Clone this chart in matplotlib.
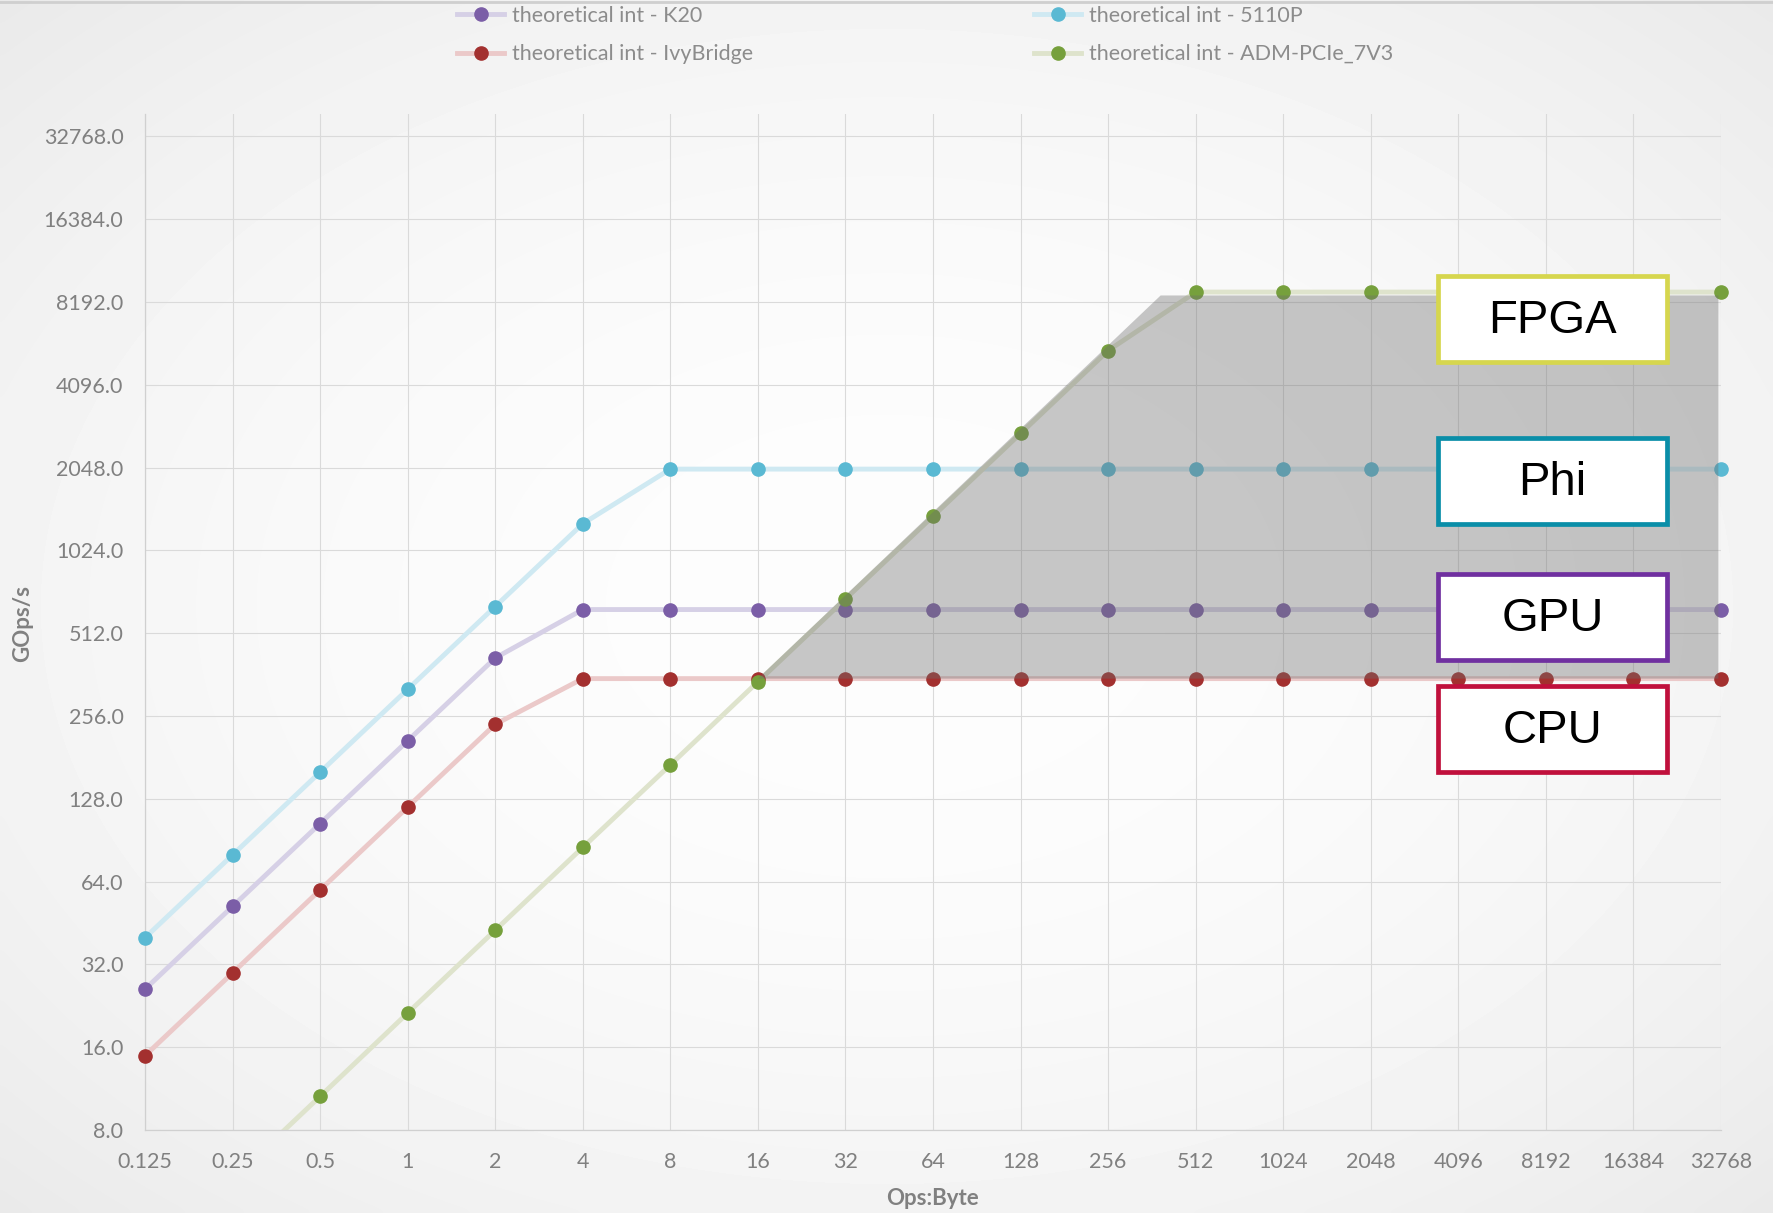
import numpy as np
import matplotlib
matplotlib.use("Agg")
import matplotlib.pyplot as plt
from matplotlib.patches import Rectangle
from matplotlib.lines import Line2D

# ---------------- data ----------------
ops_labels = ["0.125", "0.25", "0.5", "1", "2", "4", "8", "16", "32", "64", "128",
              "256", "512", "1024", "2048", "4096", "8192", "16384", "32768"]
k20 = [26, 52, 104, 208, 416, 624, 624, 624, 624, 624, 624, 624, 624, 624, 624, 624, 624, 624, 624]
ivybridge = [14.9, 29.8, 59.7, 119.4, 238.8, 350, 350, 350, 350, 350, 350, 350, 350, 350, 350, 350, 350, 350, 350]
phi_5110p = [40, 80, 160, 320, 640, 1280, 2022, 2022, 2022, 2022, 2022, 2022, 2022, 2022, 2022, 2022, 2022, 2022, 2022]
fpga_7v3 = [2.66, 5.3, 10.6, 21.3, 42.6, 85.2, 170, 341, 682, 1363, 2726, 5452, 8900, 8900, 8900, 8900, 8900, 8900, 8900]
series_names = ["theoretical int - K20", "theoretical int - IvyBridge",
                "theoretical int - 5110P", "theoretical int - ADM-PCIe_7V3"]
y_ticks = [8, 16, 32, 64, 128, 256, 512, 1024, 2048, 4096, 8192, 16384, 32768]
# shaded FPGA-advantage region (category index, GOps/s)
region_x = [7.0, 11.6, 17.97, 17.97]
region_y = [350, 8650, 8650, 350]
box_labels = ["FPGA", "Phi", "GPU", "CPU"]

# ---------------- style ----------------
line_cols = ["#d6d0e6", "#ebc9c9", "#cfe9f2", "#dee3cc"]
mark_cols = ["#7b5ea7", "#a3302f", "#5ab9d3", "#76a03c"]
box_cols = ["#d6d64e", "#0a8ea8", "#7030a0", "#c0103c"]
tick_col = "#808080"

W, H = 1774, 1213
fig = plt.figure(figsize=(W / 100, H / 100), dpi=100)

# background gradient
bg = fig.add_axes([0, 0, 1, 1], zorder=-10)
yy, xx = np.mgrid[0:1:200j, 0:1:300j]
r = np.sqrt(((xx - 0.5) / 0.75) ** 2 + ((yy - 0.5) / 0.75) ** 2)
grad = 253 - 22 * r ** 2
bg.imshow(grad, cmap="gray", vmin=0, vmax=255, aspect="auto", extent=[0, 1, 0, 1], interpolation="bicubic")
bg.set_axis_off()
fig.add_artist(Line2D([0, 1], [0.9985, 0.9985], transform=fig.transFigure, color="#cfcfcf", lw=2))

left, right = 145 / W, 1721 / W
bottom, top = 1 - 1130 / H, 1 - 114 / H
ax = fig.add_axes([left, bottom, right - left, top - bottom])
ax.set_facecolor("none")

x = np.arange(len(ops_labels))
ax.set_yscale("log", base=2)
ymin, ymax = 8, 32768 * 2 ** 0.27
ax.set_xlim(0, len(ops_labels) - 1)
ax.set_ylim(ymin, ymax)

all_series = [k20, ivybridge, phi_5110p, fpga_7v3]
handles = []
for vals, name, lc, mc in zip(all_series, series_names, line_cols, mark_cols):
    v = np.array(vals, dtype=float)
    ax.plot(x, v, color=lc, lw=3.5, zorder=2, solid_capstyle="butt")
    vm = np.where(v >= ymin, v, np.nan)
    ax.plot(x, vm, ls="none", marker="o", ms=9.5, mfc=mc, mec=mc, zorder=3, clip_on=False)
    handles.append(Line2D([], [], color=lc, lw=3.5, marker="o", ms=9.5, mfc=mc, mec=mc))

ax.fill(region_x, region_y, color="#6e6e6e", alpha=0.38, lw=0, zorder=4)

ax.set_yticks(y_ticks)
ax.set_yticklabels([f"{v:.1f}" for v in y_ticks])
ax.set_xticks(x)
ax.set_xticklabels(ops_labels)
ax.minorticks_off()
ax.tick_params(axis="both", length=0, labelsize=15.5, labelcolor=tick_col)
ax.tick_params(axis="y", pad=15.5)
ax.tick_params(axis="x", pad=16)
for lab in ax.get_xticklabels() + ax.get_yticklabels():
    lab.set_family("Lato")
ax.grid(True, color="#dadada", lw=0.8)
ax.set_axisbelow(True)
for s in ["top", "right"]:
    ax.spines[s].set_visible(False)
for s in ["left", "bottom"]:
    ax.spines[s].set_color("#d0d0d0")
    ax.spines[s].set_linewidth(0.9)

fig.text(824 * 1.1314 / W, 1 - 1059 * 1.1314 / H, "Ops:Byte", ha="center", va="center",
         fontsize=16, fontweight="bold", color=tick_col, family="Lato")
fig.text(20 * 1.1314 / W, 1 - 551 * 1.1314 / H, "GOps/s", ha="center", va="center", rotation=90,
         fontsize=16, fontweight="bold", color=tick_col, family="Lato")

# legends (two columns placed separately)
legkw = dict(frameon=False, handlelength=2.2, handletextpad=0.35,
             labelspacing=0.85, borderaxespad=0, borderpad=0,
             prop={"family": "Lato", "size": 15.5})
leg1 = fig.legend(handles[:2], series_names[:2], loc="center left",
                  bbox_to_anchor=(457 / W, 1 - 35 / H), **legkw)
leg2 = fig.legend(handles[2:], series_names[2:], loc="center left",
                  bbox_to_anchor=(1034 / W, 1 - 35 / H), **legkw)
for lg in (leg1, leg2):
    for t in lg.get_texts():
        t.set_color("#8c8c8c")

# annotation boxes
bx0, bw, bh = 1438 / W, 229 / W, 86 / H
centers = [319, 481, 617, 729]
for lab, cy, col in zip(box_labels, centers, box_cols):
    yc = 1 - cy / H
    rect = Rectangle((bx0, yc - bh / 2), bw, bh, transform=fig.transFigure,
                     facecolor="white", edgecolor=col, lw=3.4, zorder=20)
    fig.add_artist(rect)
    fig.text(bx0 + bw / 2, yc - 0.002, lab, ha="center", va="center", fontsize=34,
             family="Liberation Sans", color="black", zorder=21)

fig.savefig("out.png", dpi=100)
